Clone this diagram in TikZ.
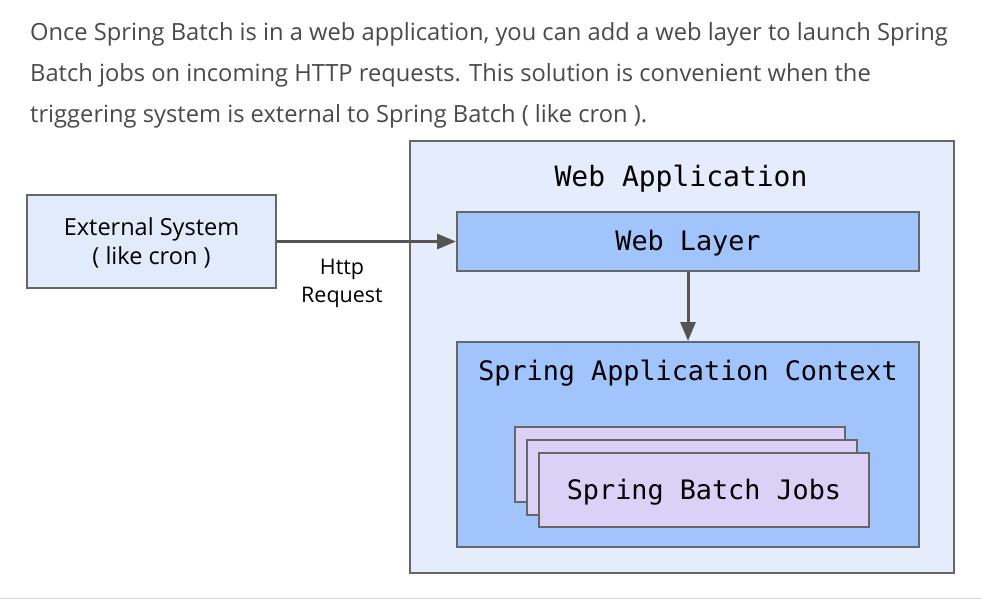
\documentclass[tikz,border=0pt]{standalone}
\usepackage{fontspec}
\setmainfont{Open Sans}
\setmonofont{DejaVu Sans Mono}
\usetikzlibrary{arrows.meta}
\definecolor{bordc}{HTML}{666666}
\definecolor{arrc}{HTML}{555555}
\definecolor{txtc}{HTML}{4A4A4A}
\definecolor{lightbl}{HTML}{E2EBFC}
\definecolor{appbl}{HTML}{E5EDFD}
\definecolor{midbl}{HTML}{A2C4FD}
\definecolor{lav}{HTML}{DBD0F6}
\tikzset{
  box/.style={draw=bordc, line width=2pt},
  para/.style={anchor=base west, inner sep=0pt, text=txtc, font=\fontsize{23.7}{28}\selectfont},
  monolab/.style={inner sep=0pt, font=\ttfamily\fontsize{26.8}{30}\selectfont},
  sanslab/.style={inner sep=0pt, align=center, font=\fontsize{23.5}{29}\selectfont},
  conn/.style={draw=arrc, line width=3pt, -{Triangle[length=19pt,width=15pt]}},
}
\begin{document}
\begin{tikzpicture}[x=1pt,y=-1pt]
\useasboundingbox (0,0) rectangle (982,600);
\fill[white] (0,0) rectangle (982,600);
\node[para] (p1) at (30,40) {Once Spring Batch is in a web application, you can add a web layer to launch Spring};
\node[para] (p2) at (30,81) {Batch jobs on incoming HTTP requests. This solution is convenient when the};
\node[para] (p3) at (30,122) {triggering system is external to Spring Batch ( like cron ).};
\draw[line width=1.5pt, draw=black!15] (0,598.5) -- (982,598.5);
% web application container
\path[box, fill=appbl] (410,141) rectangle (954,573);
\node[monolab, font=\ttfamily\fontsize{28}{30}\selectfont] (wat) at (681,179) {Web Application};
% external system
\node[box, fill=lightbl, minimum width=249pt, minimum height=93pt, inner sep=0pt] (ext) at (151.5,241.5) {};
\node[sanslab] (extt) at (151.5,242.5) {External System\\( like cron )};
% web layer
\node[box, fill=midbl, minimum width=462pt, minimum height=59pt, inner sep=0pt] (wl) at (688,241.5) {};
\node[monolab] at (688,243) {Web Layer};
% spring application context
\node[box, fill=midbl, minimum width=462pt, minimum height=205pt, inner sep=0pt] (sac) at (688,444.5) {};
\node[monolab] (sact) at (688,373) {Spring Application Context};
% stacked jobs
\node[box, fill=lav, minimum width=330pt, minimum height=75pt, inner sep=0pt] (j1) at (680,464.5) {};
\node[box, fill=lav, minimum width=330pt, minimum height=75pt, inner sep=0pt] (j2) at (692,477.5) {};
\node[box, fill=lav, minimum width=330pt, minimum height=74pt, inner sep=0pt] (j3) at (704,490) {};
\node[monolab] at (704,492) {Spring Batch Jobs};
% connectors
\draw[conn] (ext.east) -- (wl.west);
\node[sanslab, font=\fontsize{21.5}{28}\selectfont] (http) at (342,283) {Http\\Request};
\draw[conn] (wl.south) -- (sac.north);
\end{tikzpicture}
\end{document}
